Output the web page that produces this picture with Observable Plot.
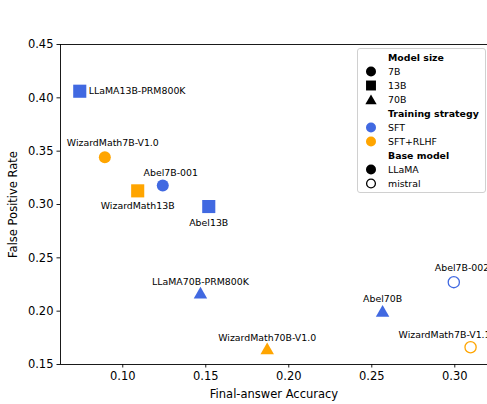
<!DOCTYPE html>
<html><head><meta charset="utf-8">
<script src="https://cdn.jsdelivr.net/npm/d3@7"></script>
<script src="https://cdn.jsdelivr.net/npm/@observablehq/plot@0.6"></script>
<style>
body{margin:0;background:#fff;font-family:"DejaVu Sans",sans-serif;}
#wrap{position:relative;width:487px;height:404px;overflow:hidden;background:#fff;}
#legend{position:absolute;left:357px;top:48px;}
</style></head><body>
<div id="wrap"><div id="chart"></div><svg id="legend" width="130" height="146"></svg></div>
<script>
// ---- data ----
const models = ["LLaMA13B-PRM800K","WizardMath7B-V1.0","WizardMath13B","Abel7B-001","Abel13B",
  "LLaMA70B-PRM800K","WizardMath70B-V1.0","Abel70B","Abel7B-002","WizardMath7B-V1.1"];
const accuracy = [0.0741, 0.0892, 0.109, 0.1241, 0.1518, 0.1468, 0.187, 0.2565, 0.2994, 0.3095];
const falsePositiveRate = [0.4062, 0.3443, 0.3128, 0.3178, 0.2981, 0.2173, 0.165, 0.2002, 0.2272, 0.1662];
const modelSize = ["13B","7B","13B","7B","13B","70B","70B","70B","7B","7B"];
const strategy = ["SFT","SFT+RLHF","SFT+RLHF","SFT","SFT","SFT","SFT+RLHF","SFT","SFT","SFT+RLHF"];
const baseModel = ["LLaMA","LLaMA","LLaMA","LLaMA","LLaMA","LLaMA","LLaMA","LLaMA","mistral","mistral"];
const xTicks = [0.10, 0.15, 0.20, 0.25, 0.30];
const yTicks = [0.15, 0.20, 0.25, 0.30, 0.35, 0.40, 0.45];

// ---- styling / layout config ----
const colors = {"SFT": "#4169E1", "SFT+RLHF": "#FFA500"};
const symbols = {"7B": "circle", "13B": "square", "70B": "triangle"};
const radius = {"7B": 6, "13B": 7.4, "70B": 5};
const symDy = {"7B": 0, "13B": 0, "70B": 1.9};
const labelPlacement = {
  "LLaMA13B-PRM800K": ["start", 9, 0],
  "WizardMath7B-V1.0": ["middle", 8, -14],
  "WizardMath13B": ["middle", 0, 15],
  "Abel7B-001": ["middle", 8, -13],
  "Abel13B": ["middle", 0, 16],
  "LLaMA70B-PRM800K": ["middle", 0, -11],
  "WizardMath70B-V1.0": ["middle", 0, -11],
  "Abel70B": ["middle", 0, -11.5],
  "Abel7B-002": ["start", -19, -14],
  "WizardMath7B-V1.1": ["start", -72, -12]
};
const xDomain = [0.0625, 0.3197];
const yDomain = [0.15, 0.45];

const data = models.map((m, i) => ({
  name: m, x: accuracy[i], y: falsePositiveRate[i],
  size: modelSize[i], strategy: strategy[i], base: baseModel[i]
}));

const dotMarks = [];
for (const s of ["7B", "13B", "70B"]) {
  for (const b of ["LLaMA", "mistral"]) {
    const subset = data.filter(d => d.size === s && d.base === b);
    if (!subset.length) continue;
    const hollow = b === "mistral";
    dotMarks.push(Plot.dot(subset, {
      x: "x", y: "y", symbol: () => symbols[s], r: hollow ? 5.6 : radius[s], dy: symDy[s],
      fill: hollow ? "none" : d => colors[d.strategy],
      stroke: hollow ? d => colors[d.strategy] : "none",
      strokeWidth: hollow ? 1.3 : 0
    }));
  }
}

const textMarks = data.map(d => {
  const [anchor, dx, dy] = labelPlacement[d.name];
  return Plot.text([d], {x: "x", y: "y", text: "name", textAnchor: anchor, dx, dy,
    fontSize: 9.4, fill: "#000"});
});

const chart = Plot.plot({
  width: 487, height: 404,
  marginLeft: 60, marginRight: 0, marginTop: 44, marginBottom: 40,
  style: {fontFamily: "DejaVu Sans", color: "#000", background: "#fff"},
  x: {domain: xDomain},
  y: {domain: yDomain},
  symbol: {type: "identity"},
  marks: [
    Plot.ruleY([yDomain[1]], {stroke: "#000", strokeWidth: 0.9}),
    Plot.ruleY([yDomain[0]], {stroke: "#000", strokeWidth: 0.9}),
    Plot.ruleX([xDomain[0]], {stroke: "#000", strokeWidth: 0.9}),
    Plot.axisX({ticks: xTicks, tickFormat: d3.format(".2f"), tickSize: 3.5, tickPadding: 3.5,
      fontSize: 11.5, label: "Final-answer Accuracy", labelAnchor: "center", labelOffset: 33,
      labelArrow: "none", strokeWidth: 0.9}),
    Plot.axisY({ticks: yTicks, tickFormat: d3.format(".2f"), tickSize: 3.5, tickPadding: 3.5,
      fontSize: 11.5, label: "False Positive Rate", labelAnchor: "center", labelOffset: 52,
      labelArrow: "none", strokeWidth: 0.9}),
    ...dotMarks,
    ...textMarks
  ]
});
document.getElementById("chart").appendChild(chart);

// ---- legend ----
const legendRows = [
  {header: "Model size"},
  {text: "7B", symbol: d3.symbolCircle, fill: "#000", r: 5},
  {text: "13B", symbol: d3.symbolSquare, fill: "#000", r: 5.6},
  {text: "70B", symbol: d3.symbolTriangle, fill: "#000", r: 4.2, dy: 1.5},
  {header: "Training strategy"},
  {text: "SFT", symbol: d3.symbolCircle, fill: colors["SFT"], r: 5},
  {text: "SFT+RLHF", symbol: d3.symbolCircle, fill: colors["SFT+RLHF"], r: 5},
  {header: "Base model"},
  {text: "LLaMA", symbol: d3.symbolCircle, fill: "#000", r: 5},
  {text: "mistral", symbol: d3.symbolCircle, fill: "none", stroke: "#000", r: 4.4}
];
const lg = d3.select("#legend");
lg.append("rect").attr("x", 0.5).attr("y", 0.5).attr("width", 128).attr("height", 144)
  .attr("rx", 2.5).attr("fill", "#fff").attr("fill-opacity", 0.8).attr("stroke", "#d0d0d0");
legendRows.forEach((row, i) => {
  const cy = 9.5 + i * 14;
  if (row.header) {
    lg.append("text").attr("x", 31).attr("y", cy).attr("dy", "0.35em")
      .attr("font-family", "DejaVu Sans").attr("font-size", 9.4).attr("font-weight", "bold").text(row.header);
  } else {
    lg.append("path").attr("transform", `translate(14,${cy + (row.dy || 0)})`)
      .attr("d", d3.symbol(row.symbol, Math.PI * row.r * row.r)())
      .attr("fill", row.fill).attr("stroke", row.stroke || "none").attr("stroke-width", 1.3);
    lg.append("text").attr("x", 31).attr("y", cy).attr("dy", "0.35em")
      .attr("font-family", "DejaVu Sans").attr("font-size", 9.4).text(row.text);
  }
});
</script></body></html>
